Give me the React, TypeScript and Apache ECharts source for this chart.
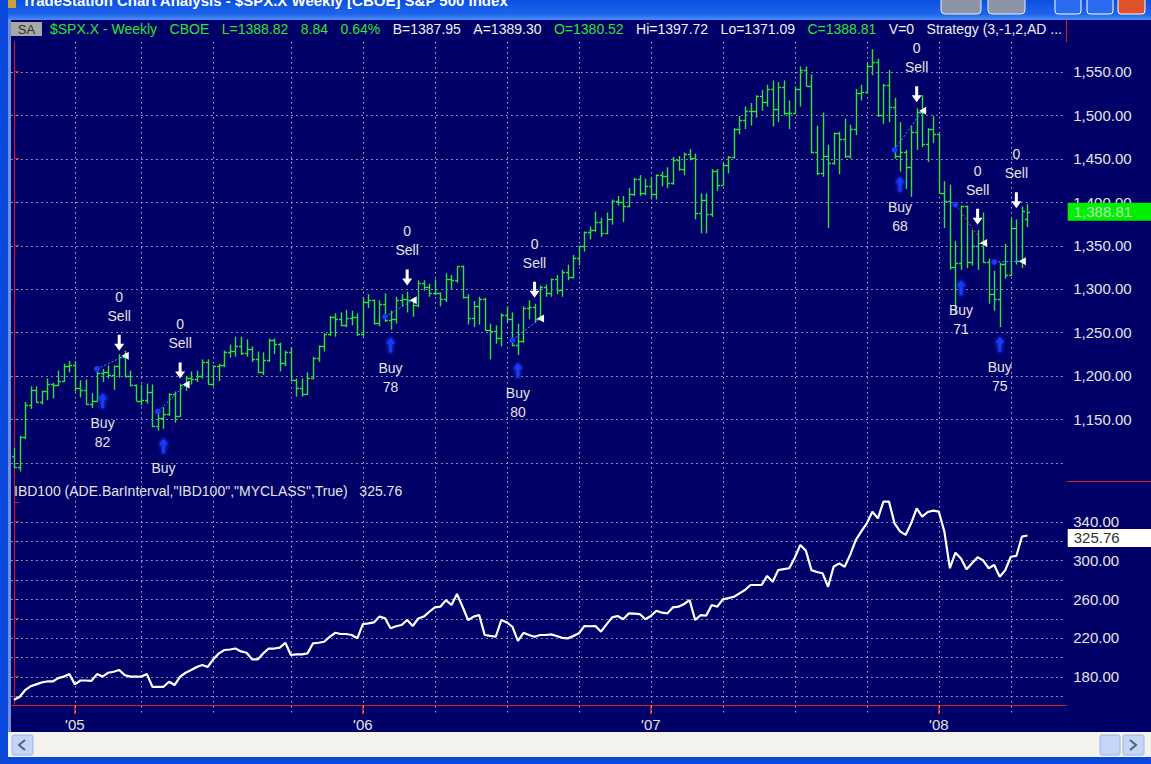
import React, { useEffect, useRef } from 'react';
import * as echarts from 'echarts';

// ---- Weekly $SPX.X bars (Oct 2004 - Apr 2008) ----
const opens = [1108,1095,1130,1166,1184,1170,1182,1191,1189,1194,1211,1212,1186,1184,1168,1171,1203,1205,1201,1211,1222,1200,1190,1171,1172,1181,1142,1152,1156,1179,1154,1189,1198,1196,1200,1216,1191,1211,1212,1227,1229,1234,1226,1231,1219,1205,1218,1241,1237,1215,1228,1195,1186,1179,1198,1220,1234,1248,1268,1265,1259,1267,1268,1248,1285,1287,1261,1283,1264,1266,1287,1289,1287,1281,1307,1302,1295,1295,1289,1312,1310,1326,1291,1267,1280,1289,1253,1252,1244,1270,1265,1236,1240,1278,1279,1266,1302,1295,1311,1299,1319,1314,1336,1349,1365,1368,1377,1364,1380,1401,1400,1396,1409,1427,1410,1418,1409,1431,1430,1422,1448,1438,1455,1451,1387,1402,1386,1436,1420,1443,1452,1484,1494,1505,1505,1522,1515,1530,1507,1532,1502,1503,1530,1552,1534,1458,1433,1453,1445,1479,1473,1453,1484,1525,1527,1557,1561,1500,1535,1509,1453,1458,1440,1481,1504,1467,1484,1478,1411,1401,1325,1330,1395,1331,1349,1353,1331,1294,1288,1329,1316,1370,1332,1380.52];
const highs = [1117,1131,1170,1188,1188,1183,1197,1192,1206,1214,1217,1217,1195,1196,1180,1205,1208,1212,1212,1225,1229,1206,1190,1190,1191,1190,1159,1164,1180,1182,1191,1199,1205,1206,1219,1219,1212,1214,1229,1236,1245,1245,1242,1234,1228,1227,1243,1243,1238,1229,1233,1197,1197,1204,1222,1235,1249,1269,1272,1273,1276,1275,1272,1290,1294,1288,1287,1295,1275,1291,1294,1297,1288,1310,1310,1306,1311,1296,1318,1316,1326,1327,1294,1286,1291,1290,1260,1258,1272,1280,1273,1260,1280,1287,1283,1304,1305,1312,1316,1322,1328,1339,1350,1366,1372,1389,1382,1388,1403,1407,1407,1416,1428,1431,1427,1429,1432,1435,1440,1452,1453,1457,1461,1456,1410,1410,1438,1438,1445,1453,1485,1499,1510,1514,1523,1529,1535,1540,1538,1540,1517,1533,1556,1556,1547,1488,1503,1466,1480,1481,1496,1489,1530,1535,1560,1576,1565,1536,1552,1520,1492,1460,1488,1508,1523,1485,1499,1479,1424,1420,1355,1396,1396,1368,1368,1388,1335,1321,1330,1352,1381,1380,1395,1397.72];
const lows = [1094,1090,1127,1162,1169,1167,1172,1174,1188,1193,1204,1182,1175,1167,1163,1170,1193,1197,1184,1198,1198,1188,1171,1166,1168,1141,1137,1139,1154,1146,1153,1183,1190,1193,1197,1190,1188,1194,1210,1221,1222,1224,1222,1216,1203,1201,1216,1225,1205,1211,1194,1176,1176,1178,1196,1216,1228,1246,1245,1257,1256,1258,1246,1245,1278,1259,1257,1262,1253,1260,1280,1273,1268,1279,1298,1291,1293,1280,1285,1299,1307,1289,1259,1256,1259,1252,1219,1237,1234,1262,1234,1224,1238,1265,1261,1264,1291,1291,1294,1291,1310,1312,1327,1343,1357,1366,1360,1363,1374,1396,1377,1394,1407,1407,1408,1403,1403,1418,1416,1420,1436,1431,1448,1380,1364,1364,1383,1413,1419,1433,1450,1478,1484,1488,1497,1505,1510,1487,1492,1500,1484,1501,1510,1533,1456,1431,1429,1370,1443,1432,1451,1450,1477,1517,1525,1546,1498,1490,1492,1450,1435,1415,1406,1460,1463,1446,1468,1410,1370,1322,1270,1322,1324,1327,1322,1330,1283,1275,1256,1312,1315,1328,1324,1371.09];
const closes = [1095,1130,1166,1184,1170,1182,1191,1189,1194,1211,1212,1186,1184,1168,1171,1203,1205,1201,1211,1222,1200,1190,1171,1172,1181,1142,1152,1156,1179,1154,1189,1198,1196,1200,1216,1191,1211,1212,1227,1229,1234,1226,1231,1219,1205,1218,1241,1237,1215,1228,1195,1186,1179,1198,1220,1234,1248,1268,1265,1259,1267,1268,1248,1285,1287,1261,1283,1264,1266,1287,1289,1287,1281,1307,1302,1295,1295,1289,1312,1310,1326,1291,1267,1280,1289,1253,1252,1244,1270,1265,1236,1240,1278,1279,1266,1302,1295,1311,1299,1319,1314,1336,1349,1365,1368,1377,1364,1380,1401,1400,1396,1409,1427,1410,1418,1409,1431,1430,1422,1448,1438,1455,1451,1387,1402,1386,1436,1420,1443,1452,1484,1494,1505,1505,1522,1515,1530,1507,1532,1502,1503,1530,1552,1534,1458,1433,1453,1445,1479,1473,1453,1484,1525,1527,1557,1561,1500,1535,1509,1453,1458,1440,1481,1504,1467,1484,1478,1411,1401,1325,1330,1395,1331,1349,1353,1331,1294,1288,1329,1316,1370,1332,1390,1388.81];

// ---- IBD100 weekly values ----
const ibd100 = [156,159,166,170,172,174,175,175,178.5,180,182.6,172,176,176,175.7,182.6,180,184,185,186.8,181.6,180,180,180,182.6,169.5,169.5,169.5,174.7,171.3,180,184,186.8,190,192,190,198,204,207.5,208,209,206,204.7,197.8,197.8,204,209,209,210,215,202.3,203,203,204,214.4,215,216,221,225.3,224,224,223,219.5,234.3,235,236,242,240.2,230,232,233.3,238.5,232.3,240,242,247,251.6,252.2,259,254,265.3,252.2,238.5,242,243.6,223,222,221.2,238.5,236,231.5,217,225.3,223,221.2,223,223,223.6,222,220,219.5,222,224.7,232.3,232,232.3,226.4,234,241.2,242.6,239.2,245.3,245,244.6,239.2,242.6,248,246,245.3,251.6,252.2,255,259,238.5,243.6,243,254,252.2,259.8,261,262.5,266,269.4,274.6,274.6,274.6,284,278,290,291,291.9,303,316,310,290,288,286.7,272.8,293.5,297,293.5,306,321,330,338.3,350.3,343.5,360.7,360.7,338.3,330,326.3,338.3,353.8,345.2,350,351.4,350.3,329.7,291.9,308,302,290.8,297,303.2,300,291.9,295.3,283.2,290,303.8,304.6,324.5,325.76];

// ---- Axes ----
const quarterIdx = [11, 23, 36, 50, 63, 76, 89, 102, 115, 128, 141, 154, 167, 180];
const yearIdx = [11, 63, 115, 167];
const yearLabels = ["'05", "'06", "'07", "'08"];
const priceTicks = [1100, 1150, 1200, 1250, 1300, 1350, 1400, 1450, 1500, 1550];
const priceLabels = [1150, 1200, 1250, 1300, 1350, 1400, 1450, 1500, 1550];
const ibdTicks = [160, 180, 200, 220, 240, 260, 280, 300, 320, 340, 360];
const ibdGrid = [160, 180, 200, 220, 240, 260, 280, 300, 320, 340];
const ibdLabels = [180, 220, 260, 300, 340];

// ---- Strategy trades ----
const entryBar = [15, 26, 67, 90, 159, 170, 177];
const entryPrice = [1208, 1159, 1268, 1241, 1460, 1397, 1331];
const buyArrowBar = [16, 27, 68, 91, 160, 171, 178];
const buyArrowTop = [1180, 1128, 1244, 1215, 1429, 1310, 1245];
const buyLabel = ['82', '', '78', '80', '68', '71', '75'];
const sellBar = [19, 30, 71, 94, 163, 174, 181];
const sellTip = [1229, 1197, 1304, 1290, 1515, 1374, 1393];
const exitBar = [20, 31, 72, 95, 164, 175, 182];
const exitPrice = [1223, 1190, 1287, 1266, 1505, 1353, 1332];

const lastClose = 1388.81;
const lastIbd = 325.76;

// ---- Header status line ----
const headerTexts = ['$SPX.X - Weekly', 'CBOE', 'L=1388.82', '8.84', '0.64%', 'B=1387.95', 'A=1389.30', 'O=1380.52', 'Hi=1397.72', 'Lo=1371.09', 'C=1388.81', 'V=0', 'Strategy (3,-1,2,AD ...'];
const headerGreen = [true, true, true, true, true, false, false, true, false, false, true, false, false];

const NAVY = '#000068';
const GREEN = '#2ee42e';
const RED = '#d42020';
const DOT = '#b4b4cc';
const TXT = '#e4e4e4';
const FONT = 'Liberation Sans, Arial, sans-serif';

const fmtPrice = (v: number) =>
  v.toLocaleString('en-US', { minimumFractionDigits: 2, maximumFractionDigits: 2 });

function vLineFn(extra: number) {
  return (params: any, api: any) => {
    const x = Math.round(api.coord([api.value(0), api.value(1)])[0]) + 0.5;
    const cs = params.coordSys;
    return {
      type: 'line',
      shape: { x1: x, y1: cs.y, x2: x, y2: cs.y + cs.height + extra },
      style: { stroke: DOT, lineWidth: 1, lineDash: [1.5, 3.5] },
    };
  };
}
function hLine(params: any, api: any) {
  const y = Math.round(api.coord([api.value(0), api.value(1)])[1]) + 0.5;
  const cs = params.coordSys;
  return {
    type: 'line',
    shape: { x1: cs.x, y1: y, x2: cs.x + cs.width, y2: y },
    style: { stroke: DOT, lineWidth: 1, lineDash: [1.5, 3.5] },
  };
}

function ohlcItem(params: any, api: any) {
  const i = api.value(0);
  const o = api.coord([i, api.value(1)]);
  const h = api.coord([i, api.value(2)]);
  const l = api.coord([i, api.value(3)]);
  const c = api.coord([i, api.value(4)]);
  const x = Math.round(h[0]) + 0.5;
  const st = { stroke: GREEN, lineWidth: 1.4 };
  return {
    type: 'group',
    children: [
      { type: 'line', shape: { x1: x, y1: h[1], x2: x, y2: l[1] }, style: st },
      { type: 'line', shape: { x1: x - 2.5, y1: Math.round(o[1]) + 0.5, x2: x, y2: Math.round(o[1]) + 0.5 }, style: st },
      { type: 'line', shape: { x1: x, y1: Math.round(c[1]) + 0.5, x2: x + 2.5, y2: Math.round(c[1]) + 0.5 }, style: st },
    ],
  };
}

function tradeItem(params: any, api: any) {
  const k = params.dataIndex;
  const e = api.coord([api.value(0), api.value(1)]);
  const a = api.coord([api.value(2), api.value(3)]);
  const s = api.coord([api.value(4), api.value(5)]);
  const t = api.coord([api.value(6), api.value(7)]);
  const win = api.value(7) >= api.value(1);
  const txt = (text: string, x: number, y: number) => ({
    type: 'text',
    x, y,
    style: { text, fill: TXT, font: `14px ${FONT}`, align: 'center', verticalAlign: 'middle' },
  });
  const ax = a[0], ay = a[1];
  const sx = s[0], sy = s[1];
  const children: any[] = [
    {
      type: 'line',
      shape: { x1: e[0], y1: e[1], x2: t[0], y2: t[1] },
      style: { stroke: win ? '#3aa0ff' : '#ff3030', lineWidth: 1, lineDash: [2, 2] },
    },
    { type: 'circle', shape: { cx: e[0], cy: e[1], r: 3 }, style: { fill: '#1838ff' } },
    {
      type: 'polygon',
      shape: { points: [[ax, ay], [ax + 4.5, ay + 6], [ax + 1.5, ay + 6], [ax + 1.5, ay + 15], [ax - 1.5, ay + 15], [ax - 1.5, ay + 6], [ax - 4.5, ay + 6]] },
      style: { fill: '#1838ff', shadowBlur: 4, shadowColor: '#3050ff' },
    },
    txt('Buy', ax, ay + 30),
    {
      type: 'polygon',
      shape: { points: [[sx, sy], [sx + 5, sy - 7], [sx + 1.5, sy - 7], [sx + 1.5, sy - 16], [sx - 1.5, sy - 16], [sx - 1.5, sy - 7], [sx - 5, sy - 7]] },
      style: { fill: '#ffffff' },
    },
    txt('Sell', sx, sy - 35),
    txt('0', sx, sy - 54),
    {
      type: 'polygon',
      shape: { points: [[t[0] - 3, t[1]], [t[0] + 4, t[1] - 4], [t[0] + 4, t[1] + 4]] },
      style: { fill: '#ffffff' },
    },
  ];
  if (buyLabel[k]) children.push(txt(buyLabel[k], ax, ay + 49));
  return { type: 'group', children };
}

function lastBox(fill: string, color: string, dy: number) {
  return (params: any, api: any) => {
    const p = api.coord([api.value(0), api.value(1)]);
    const cs = params.coordSys;
    const x0 = cs.x + cs.width + 1.5;
    const cy = p[1] + dy;
    return {
      type: 'group',
      children: [
        { type: 'rect', shape: { x: x0, y: cy - 9, width: 86, height: 18 }, style: { fill } },
        {
          type: 'text', x: x0 + 6, y: cy,
          style: { text: fmtPrice(api.value(1)), fill: color, font: `15px ${FONT}`, verticalAlign: 'middle' },
        },
      ],
    };
  };
}

function headerGraphics(): any[] {
  const font = `14px ${FONT}`;
  const cv = document.createElement('canvas');
  const ctx = cv.getContext('2d')!;
  ctx.font = font;
  const widths = headerTexts.map(t => ctx.measureText(t).width);
  const startX = 50, endX = 1062;
  const total = widths.reduce((a, b) => a + b, 0);
  const gap = (endX - startX - total) / (headerTexts.length - 1);
  let x = startX;
  return headerTexts.map((t, i) => {
    const g = {
      type: 'text', x, y: 29,
      style: { text: t, fill: headerGreen[i] ? GREEN : '#f0f0f0', font, verticalAlign: 'middle' },
    };
    x += widths[i] + gap;
    return g;
  });
}

export default function App() {
  const ref = useRef<HTMLDivElement>(null);
  useEffect(() => {
    document.body.style.margin = '0';
    const chart = echarts.init(ref.current!, null, { renderer: 'svg' });
    const bars = opens.map((o, i) => [i, o, highs[i], lows[i], closes[i]]);
    const trades = entryBar.map((b, k) => [b, entryPrice[k], buyArrowBar[k], buyArrowTop[k], sellBar[k], sellTip[k], exitBar[k], exitPrice[k]]);

    const graphics: any[] = [
      // title bar
      {
        type: 'rect', shape: { x: 0, y: 0, width: 1151, height: 20 },
        style: { fill: new echarts.graphic.LinearGradient(0, 0, 0, 1, [{ offset: 0, color: '#0a50e0' }, { offset: 0.7, color: '#1e64ea' }, { offset: 1, color: '#4d8cf5' }]) },
      },
      { type: 'rect', shape: { x: 4, y: 0, width: 12, height: 8 }, style: { fill: '#c8a040' } },
      {
        type: 'text', x: 22, y: 0,
        style: { text: 'TradeStation Chart Analysis - $SPX.X Weekly [CBOE] S&P 500 Index', fill: '#ffffff', font: `bold 15px ${FONT}`, verticalAlign: 'middle' },
      },
      { type: 'rect', shape: { x: 941, y: -6, width: 40, height: 20, r: 4 }, style: { fill: '#8c95a8', stroke: '#e8ecf4', lineWidth: 1 } },
      { type: 'rect', shape: { x: 988, y: -6, width: 37, height: 20, r: 4 }, style: { fill: '#8c95a8', stroke: '#e8ecf4', lineWidth: 1 } },
      { type: 'rect', shape: { x: 1055, y: -6, width: 26, height: 20, r: 3 }, style: { fill: '#2a6af0', stroke: '#ffffff', lineWidth: 1 } },
      { type: 'rect', shape: { x: 1087, y: -6, width: 26, height: 20, r: 3 }, style: { fill: '#2a6af0', stroke: '#ffffff', lineWidth: 1 } },
      { type: 'rect', shape: { x: 1118, y: -6, width: 27, height: 20, r: 3 }, style: { fill: '#e0502a', stroke: '#ffffff', lineWidth: 1 } },
      // left frame
      { type: 'rect', shape: { x: 0, y: 0, width: 8, height: 764 }, style: { fill: '#0a48dc' } },
      { type: 'rect', shape: { x: 8, y: 20, width: 3, height: 712 }, style: { fill: '#6f8fd8' } },
      // header
      { type: 'rect', shape: { x: 11, y: 22, width: 31, height: 14 }, style: { fill: '#a8a8a8' } },
      { type: 'text', x: 26.5, y: 29, style: { text: 'SA', fill: '#303030', font: `13px ${FONT}`, align: 'center', verticalAlign: 'middle' } },
      ...headerGraphics(),
      // separators
      { type: 'line', shape: { x1: 1066.5, y1: 20, x2: 1066.5, y2: 42 }, style: { stroke: RED, lineWidth: 1 } },
      { type: 'line', shape: { x1: 1066.5, y1: 481.5, x2: 1151, y2: 481.5 }, style: { stroke: RED, lineWidth: 1 } },
      {
        type: 'text', x: 14, y: 491,
        style: { text: 'IBD100 (ADE.BarInterval,"IBD100","MYCLASS",True)   325.76', fill: TXT, font: `14px ${FONT}`, verticalAlign: 'middle' },
      },
      // scrollbar
      { type: 'rect', shape: { x: 8, y: 732, width: 1143, height: 25 }, style: { fill: '#f3f2ec' } },
      { type: 'rect', shape: { x: 12, y: 735, width: 21, height: 20, r: 2 }, style: { fill: '#c5d5f8', stroke: '#9cb4e8', lineWidth: 1 } },
      { type: 'polyline', shape: { points: [[25, 740], [19, 745], [25, 750]] }, style: { stroke: '#4d6185', lineWidth: 2, fill: 'none' } },
      { type: 'rect', shape: { x: 1100, y: 735, width: 20, height: 20, r: 2 }, style: { fill: '#c5d5f8', stroke: '#9cb4e8', lineWidth: 1 } },
      { type: 'rect', shape: { x: 1123, y: 735, width: 21, height: 20, r: 2 }, style: { fill: '#c5d5f8', stroke: '#9cb4e8', lineWidth: 1 } },
      { type: 'polyline', shape: { points: [[1130, 740], [1136, 745], [1130, 750]] }, style: { stroke: '#4d6185', lineWidth: 2, fill: 'none' } },
      { type: 'rect', shape: { x: 0, y: 757, width: 1151, height: 7 }, style: { fill: '#0a48dc' } },
    ];

    chart.setOption({
      animation: false,
      backgroundColor: NAVY,
      grid: [
        { left: 11.2, top: 42, width: 1055, height: 439 },
        { left: 11.2, top: 481, width: 1055, height: 224 },
      ],
      xAxis: [
        { gridIndex: 0, type: 'value', min: -0.5, max: 190, show: false },
        {
          gridIndex: 1, type: 'value', min: -0.5, max: 190,
          axisLine: { show: true, lineStyle: { color: RED, width: 1 } },
          axisTick: { show: true, customValues: yearIdx, length: 9, lineStyle: { color: RED, width: 2 } },
          axisLabel: {
            show: true, customValues: yearIdx, margin: 12, color: TXT, fontSize: 15, fontFamily: FONT,
            formatter: (v: number) => yearLabels[yearIdx.indexOf(Math.round(v))] || '',
          },
          splitLine: { show: false },
        },
      ],
      yAxis: [
        {
          gridIndex: 0, type: 'value', position: 'right', min: 1079, max: 1584.2,
          axisLine: { show: true, lineStyle: { color: RED } },
          axisTick: { show: true, customValues: priceTicks, length: 5, lineStyle: { color: RED } },
          axisLabel: { show: true, customValues: priceLabels, margin: 7, color: TXT, fontSize: 15, fontFamily: FONT, formatter: (v: number) => fmtPrice(v) },
          splitLine: { show: false },
        },
        {
          gridIndex: 1, type: 'value', position: 'right', min: 150.7, max: 382,
          axisLine: { show: true, lineStyle: { color: RED } },
          axisTick: { show: true, customValues: ibdTicks, length: 5, lineStyle: { color: RED } },
          axisLabel: { show: true, customValues: ibdLabels, margin: 7, color: TXT, fontSize: 15, fontFamily: FONT, formatter: (v: number) => v.toFixed(2) },
          splitLine: { show: false },
        },
      ],
      series: [
        { type: 'custom', name: 'gridV0', xAxisIndex: 0, yAxisIndex: 0, data: quarterIdx.map(i => [i, 1300]), renderItem: vLineFn(0), silent: true, z: 1 },
        { type: 'custom', name: 'gridH0', xAxisIndex: 0, yAxisIndex: 0, data: priceTicks.map(v => [0, v]), renderItem: hLine, silent: true, z: 1 },
        { type: 'custom', name: 'gridV1', xAxisIndex: 1, yAxisIndex: 1, data: quarterIdx.map(i => [i, 250]), renderItem: vLineFn(8), silent: true, z: 1, clip: false },
        { type: 'custom', name: 'gridH1', xAxisIndex: 1, yAxisIndex: 1, data: ibdGrid.map(v => [0, v]), renderItem: hLine, silent: true, z: 1 },
        {
          type: 'custom', name: '$SPX.X', xAxisIndex: 0, yAxisIndex: 0, data: bars, renderItem: ohlcItem,
          encode: { x: 0, y: [1, 2, 3, 4] }, z: 3, clip: false,
        },
        {
          type: 'custom', name: 'Strategy', xAxisIndex: 0, yAxisIndex: 0, data: trades, renderItem: tradeItem,
          encode: { x: [0, 2, 4, 6], y: [1, 3, 5, 7] }, z: 4, clip: false,
        },
        {
          type: 'line', name: 'IBD100', xAxisIndex: 1, yAxisIndex: 1,
          data: ibd100.map((v, i) => [i, v]), symbol: 'none',
          lineStyle: { color: '#ffffff', width: 2.2 }, z: 3,
        },
        {
          type: 'custom', name: 'lastPrice', xAxisIndex: 0, yAxisIndex: 0, data: [[opens.length - 1, lastClose]],
          renderItem: lastBox('#00f000', '#b8e8b8', 0), clip: false, z: 5,
        },
        {
          type: 'custom', name: 'lastIbd', xAxisIndex: 1, yAxisIndex: 1, data: [[ibd100.length - 1, lastIbd]],
          renderItem: lastBox('#ffffff', '#303030', 2.5), clip: false, z: 5,
        },
      ],
      graphic: graphics,
    });
    return () => chart.dispose();
  }, []);
  return <div ref={ref} style={{ width: 1151, height: 764, position: 'absolute', left: 0, top: 0 }} />;
}
